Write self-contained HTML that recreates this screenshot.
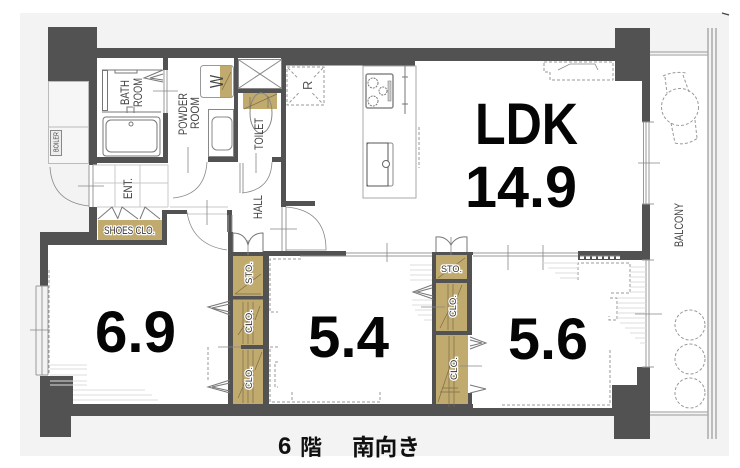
<!DOCTYPE html>
<html><head><meta charset="utf-8"><style>
html,body{margin:0;padding:0;background:#fff}
svg{display:block}
text{font-family:"Liberation Sans","Noto Sans CJK JP",sans-serif}
.big{font-weight:700;fill:#050505;font-size:58px}
.s{font-size:12px;fill:#444}
.c{font-size:9px;fill:#333;paint-order:stroke;stroke:#fff;stroke-width:2.5px}
.w{fill:#525252}.k{fill:#c0aa6e}
.t{fill:none;stroke:#999;stroke-width:1}
.r{fill:none;stroke:#aaa;stroke-width:1.5}
.g{fill:none;stroke:#c8c8c8;stroke-width:1}
.d{fill:none;stroke:#888;stroke-width:.8}
.da{fill:none;stroke:#999;stroke-width:1;stroke-dasharray:3 2}
.sh{fill:none;stroke:#ddd;stroke-width:1}
.n{fill:none;stroke:#7d6d48;stroke-width:.7}
</style></head><body>
<svg width="740" height="468" viewBox="0 0 740 468" xmlns="http://www.w3.org/2000/svg">
<rect width="740" height="468" fill="#fff"/>
<rect x="20" y="13" width="709" height="443" fill="#f3f3f3"/>
<polygon points="97,58 650,58 650,408 48,408 48,240 89,240 89,163 97,163" fill="#fff"/>
<rect x="650" y="54" width="58" height="359" fill="#fff"/>
<rect x="48.500" y="81.500" width="40" height="82" fill="#f6f6f6" stroke="#bbb"/>
<line x1="48" y1="127" x2="89" y2="127" stroke="#bbb"/>
<rect x="50.500" y="130.500" width="11" height="25" fill="#eee" stroke="#888"/>
<text transform="translate(58.500,152) rotate(-90)" fill="#444" textLength="20" lengthAdjust="spacingAndGlyphs" style="font-size:7px">BOILER</text>

<rect class="k" x="98" y="220" width="64" height="20"/>
<rect class="k" x="233" y="256" width="30" height="148"/>
<rect class="k" x="436" y="255" width="32" height="153"/>
<rect x="200.500" y="65.500" width="33" height="32" rx="3" fill="#fff" stroke="#999"/>
<rect class="k" x="220" y="66" width="12" height="31"/>
<rect class="k" x="243" y="93" width="34" height="16"/>

<g class="w">
<rect x="48" y="27" width="49" height="54"/>
<rect x="97" y="48" width="518" height="10"/>
<rect x="282" y="58" width="133" height="7.500"/>
<rect x="415" y="58" width="200" height="3"/>
<rect x="615" y="28" width="35" height="53"/>
<rect x="642" y="81" width="8" height="41"/>
<rect x="642" y="204" width="8" height="56"/>
<rect x="578" y="251" width="72" height="9"/>
<rect x="637" y="367" width="13" height="18"/>
<rect x="612" y="385" width="38" height="23"/>
<rect x="614" y="408" width="36" height="31"/>
<rect x="73" y="404" width="400" height="12"/>
<rect x="473" y="408" width="141" height="8"/>
<rect x="40" y="376" width="33" height="40"/>
<rect x="40" y="416" width="31" height="21"/>
<rect x="40" y="232" width="8" height="54"/>
<rect x="40" y="232" width="57" height="13"/>
<rect x="89" y="207" width="8" height="25"/>
<rect x="97" y="240" width="70" height="5"/>
<rect x="162" y="210" width="5" height="35"/>
<rect x="163" y="210" width="24" height="4"/>
<rect x="227" y="210" width="5" height="22"/>
<rect x="228" y="232" width="5" height="172"/>
<rect x="89" y="58" width="8" height="107"/>
<rect x="97" y="157" width="71" height="6"/>
<rect x="163" y="58" width="5" height="12"/>
<rect x="163" y="113" width="5" height="50"/>
<rect x="234" y="58" width="4" height="104"/>
<rect x="238" y="89" width="44" height="4"/>
<rect x="281" y="58" width="5" height="149"/>
<rect x="286" y="201" width="29" height="5"/>
<rect x="208" y="157" width="26" height="5"/>
<rect x="272" y="157" width="10" height="5"/>
<rect x="263" y="251" width="83" height="5"/>
<rect x="233" y="252" width="36" height="4"/>
<rect x="263" y="252" width="6" height="152"/>
<rect x="233" y="296" width="30" height="3.500"/>
<rect x="241" y="345" width="22" height="4"/>
<rect x="432" y="252" width="4" height="156"/>
<rect x="432" y="252" width="41" height="3"/>
<rect x="467" y="252" width="5" height="83"/>
<rect x="432" y="279" width="40" height="4"/>
<rect x="432" y="331" width="40" height="4"/>
<rect x="468" y="393" width="4" height="15"/>
</g>
<path d="M300 257.500H346M580 257.500H620" stroke="#fff" stroke-width="3" stroke-dasharray="4 2" fill="none"/>
<path d="M300 256H346M580 256H620" stroke="#888" stroke-width="1" fill="none"/>

<g class="t">
<path d="M346 253H432M346 256H432M473 253H578M473 256H578"/>
<path d="M643.500 122V204M646 122V204M649 122V204M642 122H654M642 204H654"/>
<path d="M646 260V367M649 260V367M642 260H654M642 367H654"/>
<path d="M36 286V375M42 286V375M48 286V375M36 286H48M36 375H48"/>
<path d="M89 165V207M93 165V207"/>
<path d="M164 70V113M167 70V113"/>
<path d="M650 52H708M650 55H708M650 412H708M650 415H708"/>
<path d="M232 215V232M228 215V232"/>
<path d="M282 207V251M286 207V251"/>
<path d="M240 163V193M243 163V193"/>
</g>
<path class="r" d="M708 28V439M712 28V439M716 28V439"/>
<path class="g" d="M168 165V207M97 207H168M93 165H168M115 165V207M140 165V207M93 183H168"/>
<path class="g" d="M170 207H228M187 214H227"/>

<g class="d">
<path d="M50 167Q52 202 89 206"/>
<path d="M78 186H104"/>
<path d="M207 162Q205 195 173 198"/>
<path d="M187 212Q192 245 227 250"/>
<path d="M272 162Q271 190 242 193"/>
<path d="M286 207Q325 210 326 248V250H286"/>
<path d="M188 147V173M207 200V225M256 153V173"/>
<path d="M270 229H297M153 91H178"/>
<path d="M218 347H241M421 307H445M460 366H482M638 163H660M635 314H662M30 330H50"/>
<path d="M248 240V255M451 237V255M387 243V262M508 245V270M543 245V270"/>
</g>

<g class="t" style="stroke:#777">
<path d="M98 219L112 207L118 219M118 218L122 207L138 219M140 219L145 207L160 219"/>
<path d="M233 252V233Q245 233 248 245Q251 233 263 233V252"/>
<path d="M436 252V237Q446 236 451 245Q456 236 467 237V252"/>
<path d="M230 301L208 307L230 315M230 304L212 308L230 312"/>
<path d="M230 380L208 387L230 393M230 383L212 387L230 391"/>
<path d="M432 285L413 292L433 299M432 288L417 292L433 296"/>
<path d="M470 337L486 343L470 349M470 340L482 343L470 346"/>
<path d="M470 385L486 389L470 393"/>
<path d="M163 70L144 78L163 82M163 74L150 78L163 80"/>
</g>

<g class="t" style="stroke:#777">
<path d="M102 70H162M102 112H161"/>
<rect x="102.500" y="70.500" width="5" height="40"/>
<rect x="115" y="70" width="22" height="3"/>
<rect x="103" y="117" width="57" height="39" rx="3"/>
<rect x="106" y="120" width="51" height="32" rx="5"/>
<circle cx="131" cy="124" r="2"/>
<path d="M127 113V107H133M134 113V107"/>
</g>

<g class="t" style="stroke:#888">
<rect x="208.500" y="109.500" width="25" height="47"/>
<rect x="212" y="117" width="20" height="33" rx="5"/>
<rect x="238.500" y="59.500" width="43" height="29"/>
<path d="M239 60L281 88M281 60L239 88"/>
<ellipse cx="261" cy="113" rx="11" ry="20"/>
</g>
<path d="M244 109L277 94M250 109V97M268 96V108" class="n"/>
<path d="M222 90L231 72" class="n"/>

<g class="n">
<path d="M235 294L261 274M235 294H261"/>
<path d="M243 302V344M248 302V344M253 302V344M255 320L260 306M238 335L248 320"/>
<path d="M243 350V403M248 350V403M253 350V403M255 370L262 352M238 398L246 380"/>
<path d="M438 278L465 258"/>
<path d="M448 284V330M453 284V330M462 285L456 300M440 328L448 312"/>
<path d="M449 336V407M454 336V407M438 402L452 360M442 388H458M440 392H460"/>
</g>

<rect x="363" y="66" width="53" height="132" fill="#fff" stroke="#aaa"/>
<rect x="366" y="74" width="27" height="34" rx="2" fill="#fff" stroke="#888" stroke-width="1.500"/>
<g fill="none" stroke="#777"><circle cx="373" cy="83" r="5" stroke-dasharray="2 1"/><circle cx="383" cy="91" r="4" stroke-dasharray="2 1"/><circle cx="373" cy="101" r="5" stroke-dasharray="2 1"/></g>
<rect x="388" y="81" width="3" height="20" fill="#ccc" stroke="#888" stroke-width=".6"/>
<path d="M405 65V114M402 77H408M402 104H408" stroke="#777" fill="none"/>
<rect x="367" y="143" width="26" height="43" rx="2" fill="none" stroke="#888"/>
<path d="M388 143V186M367 143H388V186H367Z" fill="none" stroke="#555" stroke-width="1"/>
<circle cx="386" cy="164" r="3.500" fill="#fff" stroke="#666"/>
<path d="M419 127V168" class="da"/>

<rect x="287" y="67" width="37" height="38" class="da"/>
<path d="M288 68L323 104M323 68L288 104" class="da"/>
<rect x="298" y="77" width="16" height="16" fill="#fff"/>
<text transform="translate(312,90) rotate(-90)" style="font-size:13px" fill="#555">R</text>

<path d="M544 62H613V80H550V72H544Z" class="da"/>
<path d="M558 70L570 64H595L598 70" class="d"/>

<g class="da">
<circle cx="680" cy="107" r="18.500"/>
<path d="M665 77L667 93M683 75L689 92M671 123L675 143M695 120L697 138"/>
<path d="M663 76Q674 71 686 73M675 143Q686 146 698 138"/>
<circle cx="690" cy="325" r="15"/>
<circle cx="690" cy="359" r="15"/>
<circle cx="690" cy="393" r="15"/>
</g>

<g class="da">
<path d="M301 259H270V312H278M278 347H270V402H380V392M292 392V402"/>
<path d="M278 362H275V387H278"/>
<path d="M578 280V263H630V293H610M610 298H617V320H609V316"/>
<path d="M610 350V405H502"/>
<path d="M208 347V380M49 270V375"/>
</g>

<path class="sh" d="M50 365H87M50 369H87M50 375H87M50 381H87M50 385H87M73 390H145M73 395H152M73 400H158"/>
<path class="sh" d="M630 267H646M630 272H646M630 277H646M630 282H646M630 287H646M630 292H646M617 298H646M617 303H646M617 308H646M617 313H646M617 318H646M620 323H646M625 328H646M630 333H646M635 338H646M640 343H646"/>
<path class="sh" d="M543 263H578M548 268H578M555 273H578M560 278H578"/>
<path class="sh" d="M410 265H432M410 270H432M410 275H432M410 280H432M412 300H432M412 305H432M415 310H432M418 315H432M424 320H432"/>

<g class="s">
<text transform="translate(129,105) rotate(-90)" textLength="25" lengthAdjust="spacingAndGlyphs">BATH</text>
<text transform="translate(142,107) rotate(-90)" textLength="29" lengthAdjust="spacingAndGlyphs">ROOM</text>
<text transform="translate(187,135) rotate(-90)" textLength="42" lengthAdjust="spacingAndGlyphs">POWDER</text>
<text transform="translate(199,129) rotate(-90)" textLength="32" lengthAdjust="spacingAndGlyphs">ROOM</text>
<text transform="translate(263,150) rotate(-90)" textLength="32" lengthAdjust="spacingAndGlyphs">TOILET</text>
<text transform="translate(262,219) rotate(-90)" textLength="24" lengthAdjust="spacingAndGlyphs">HALL</text>
<text transform="translate(132,199) rotate(-90)" textLength="21" lengthAdjust="spacingAndGlyphs">ENT.</text>
<text transform="translate(683,247) rotate(-90)" textLength="44" lengthAdjust="spacingAndGlyphs">BALCONY</text>
<text transform="translate(223,88) rotate(-90)" style="font-size:18px" textLength="13" lengthAdjust="spacingAndGlyphs">W</text>
</g>
<g class="c">
<text x="104" y="234" textLength="51" lengthAdjust="spacingAndGlyphs" style="font-size:11px">SHOES CLO.</text>
<text transform="translate(252,284) rotate(-90)" textLength="22" lengthAdjust="spacingAndGlyphs">STO.</text>
<text transform="translate(252,333) rotate(-90)" textLength="23" lengthAdjust="spacingAndGlyphs">CLO.</text>
<text transform="translate(252,389) rotate(-90)" textLength="22" lengthAdjust="spacingAndGlyphs">CLO.</text>
<text x="441" y="272" textLength="21" lengthAdjust="spacingAndGlyphs">STO.</text>
<text transform="translate(456,317) rotate(-90)" textLength="22" lengthAdjust="spacingAndGlyphs">CLO.</text>
<text transform="translate(457,380) rotate(-90)" textLength="23" lengthAdjust="spacingAndGlyphs">CLO.</text>
</g>
<text class="big" x="475" y="144" textLength="103" lengthAdjust="spacingAndGlyphs">LDK</text>
<text class="big" x="465" y="207" textLength="112" lengthAdjust="spacingAndGlyphs">14.9</text>
<text class="big" x="95" y="352" textLength="81" lengthAdjust="spacingAndGlyphs">6.9</text>
<text class="big" x="308" y="357" textLength="81" lengthAdjust="spacingAndGlyphs">5.4</text>
<text class="big" x="508" y="359" textLength="80" lengthAdjust="spacingAndGlyphs">5.6</text>
<text x="278" y="454" style="font-size:24px;font-weight:700" fill="#111">6</text>
<text x="300" y="455" style="font-size:22px;font-weight:700" fill="#111">階</text>
<text x="352" y="455" style="font-size:23px;font-weight:700" fill="#111" textLength="68" lengthAdjust="spacingAndGlyphs">南向き</text>
<path d="M722 13L729 15" stroke="#444" stroke-width="1.200"/>
</svg>
</body></html>
